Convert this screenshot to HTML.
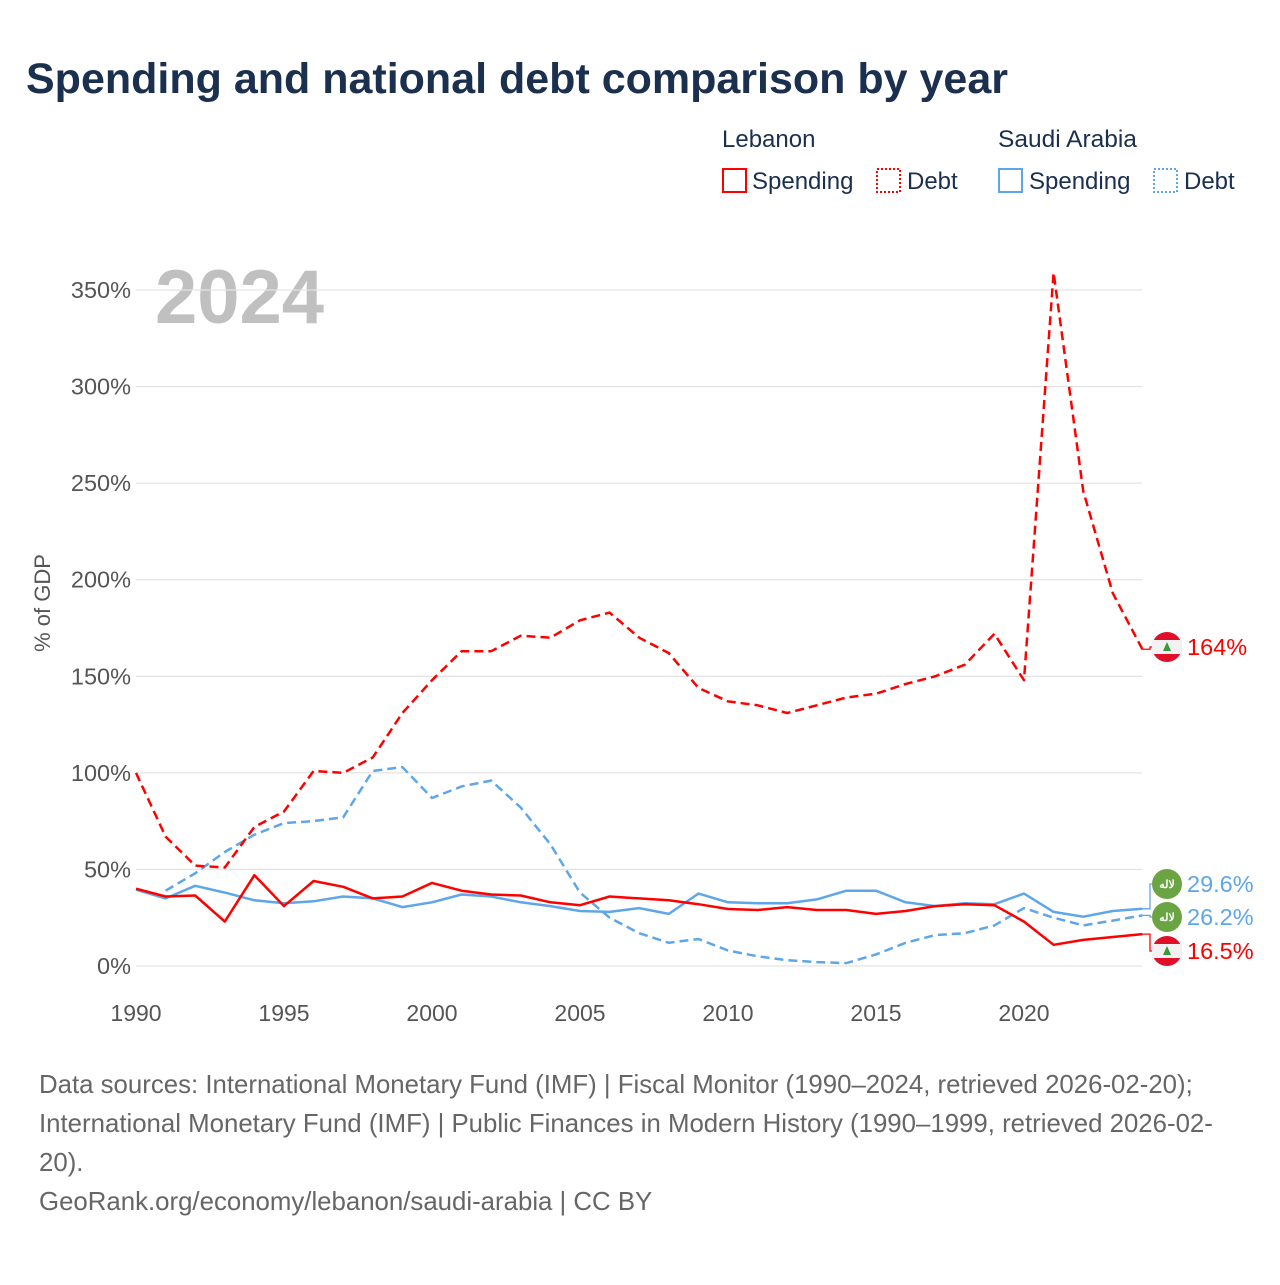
<!DOCTYPE html>
<html><head><meta charset="utf-8"><style>
body{margin:0;background:#fff;font-family:"Liberation Sans",sans-serif;}
svg text{font-family:"Liberation Sans",sans-serif;}
</style></head><body>
<svg id="chart" width="1280" height="1280" xmlns="http://www.w3.org/2000/svg">
<text x="26" y="93" font-size="43" font-weight="bold" fill="#1b2f4f">Spending and national debt comparison by year</text>
<g font-size="24" fill="#1b2f4f">
<text x="722" y="147">Lebanon</text>
<text x="998" y="147" font-size="24.5">Saudi Arabia</text>
<g><rect x="723" y="169" width="23" height="23" fill="none" stroke="#f00" stroke-width="2"/><text x="752" y="189">Spending</text></g>
<g><rect x="877" y="169" width="23" height="23" fill="none" stroke="#f00" stroke-width="2" stroke-dasharray="2,2"/><text x="907" y="189">Debt</text></g>
<g><rect x="999" y="169" width="23" height="23" fill="none" stroke="#5ea6ea" stroke-width="2"/><text x="1029" y="189">Spending</text></g>
<g><rect x="1154" y="169" width="23" height="23" fill="none" stroke="#5ea6ea" stroke-width="2" stroke-dasharray="2,2"/><text x="1184" y="189">Debt</text></g>
</g>
<text x="155" y="323" font-size="76" font-weight="bold" fill="#c0c0c0">2024</text>
<text transform="translate(50,603) rotate(-90)" text-anchor="middle" font-size="22" fill="#555">% of GDP</text>
<g id="grid"></g><g id="series"></g><g id="labels"></g>
<g font-size="25.8" fill="#666">
<text x="39" y="1093">Data sources: International Monetary Fund (IMF) | Fiscal Monitor (1990–2024, retrieved 2026-02-20);</text>
<text x="39" y="1132">International Monetary Fund (IMF) | Public Finances in Modern History (1990–1999, retrieved 2026-02-</text>
<text x="39" y="1171">20).</text>
<text x="39" y="1210">GeoRank.org/economy/lebanon/saudi-arabia | CC BY</text>
</g>
</svg>
<script>
const years=[];for(let y=1990;y<=2024;y++)years.push(y);
const yTicks=[0,50,100,150,200,250,300,350];
const xTicks=[1990,1995,2000,2005,2010,2015,2020];
const lbDebt=[100,67,52,51,72,80,101,100,108,131,148,163,163,171,170,179,183,170,162,144,137,135,131,135,139,141,146,150,156,172,148,359,246,193,164];
const saDebt=[null,39,48,59,68,74,75,77,101,103,87,93,96,82,63,38,25,17,12,14,8,5,3,2,1.5,6,12,16,17,21,30,25,21,23.5,26.2];
const lbSpend=[40,36,36.5,23,47,31,44,41,35,36,43,39,37,36.5,33,31.5,36,35,34,32,29.5,29,30.5,29,29,27,28.5,31,32,31.5,23,11,13.5,15,16.5];
const saSpend=[39.5,35,41.5,38,34,32.5,33.5,36,35,30.5,33,37,36,33,31,28.5,28,30,27,37.5,33,32.5,32.5,34.5,39,39,33,31,32.5,32,37.5,28,25.5,28.5,29.6];
const NS="http://www.w3.org/2000/svg";
const X=y=>136+(y-1990)*29.6;
const Y=v=>966-v*1.9314;
function mk(t,a,p){const e=document.createElementNS(NS,t);for(const k in a)e.setAttribute(k,a[k]);p.appendChild(e);return e;}
const grid=document.getElementById('grid');
yTicks.forEach(v=>{
 const l=mk('line',{x1:136,x2:1142,y1:Y(v),y2:Y(v),stroke:'#e4e4e4','stroke-width':1.3},grid);
 
 
 const t=mk('text',{x:131,y:Y(v)+8,'text-anchor':'end','font-size':23.5,fill:'#555'},grid);t.textContent=v+'%';
 
 
});
xTicks.forEach(y=>{
 const t=mk('text',{x:X(y),y:1021,'text-anchor':'middle','font-size':23,fill:'#555'},grid);t.textContent=y;
 
 
});
const ser=document.getElementById('series');
function line(d,c,dash,name){
 let p='';d.forEach((v,i)=>{if(v==null)return;p+=(p?'L':'M')+X(years[i]).toFixed(1)+','+Y(v).toFixed(1);});
 const e=mk('path',{d:p,fill:'none',stroke:c,'stroke-width':2.5,'stroke-linejoin':'round'},ser);
 if(dash)e.setAttribute('stroke-dasharray','9,5');
 
 
}
line(saSpend,'#5ea6ea',false,'line-saudi-spending');
line(saDebt,'#5ea6ea',true,'line-saudi-debt');
line(lbSpend,'#f00',false,'line-lebanon-spending');
line(lbDebt,'#f00',true,'line-lebanon-debt');
const lab=document.getElementById('labels');
function endLabel(v,ly,c,txt,flag,name){
 const x0=X(2024);
 mk('path',{d:`M${x0},${Y(v)}H1150V${ly}H1154`,fill:'none',stroke:c,'stroke-width':1.3},lab);
 const g=mk('g',{},lab);
 
 
 const cx=1167;
 if(flag==='lb'){
  mk('circle',{cx,cy:ly,r:15,fill:'#e0102a'},g);
  mk('rect',{x:cx-15,y:ly-7,width:30,height:14,fill:'#f2f2f2'},g);
  mk('path',{d:`M${cx},${ly-5}L${cx-4},${ly+4}H${cx+4}Z`,fill:'#3a9a3a'},g);
 }else{
  mk('circle',{cx,cy:ly,r:15,fill:'#6ba443'},g);
  const t=mk('text',{x:cx,y:ly+4,'text-anchor':'middle','font-size':11,'font-weight':'bold',fill:'#fff'},g);t.textContent='ﻻﻟﻪ';
 }
 const t=mk('text',{x:1187,y:ly+8,'font-size':23.5,fill:c},g);t.textContent=txt;
}
endLabel(lbDebt[34],647,'#f00','164%','lb','end-label-lebanon-debt');
endLabel(saSpend[34],884,'#5ea6ea','29.6%','sa','end-label-saudi-spending');
endLabel(saDebt[34],917,'#5ea6ea','26.2%','sa','end-label-saudi-debt');
endLabel(lbSpend[34],951,'#f00','16.5%','lb','end-label-lebanon-spending');
</script>
</body></html>
